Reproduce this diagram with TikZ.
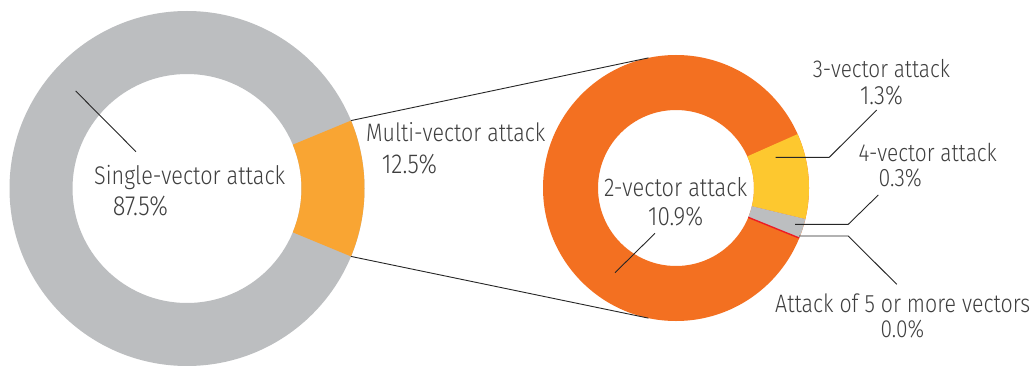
\documentclass[tikz,border=0pt]{standalone}
\usepackage{fontspec}
\setmainfont{Fira Sans Light}
\usetikzlibrary{calc}
\definecolor{ringgray}{HTML}{BCBEC0}
\definecolor{multiorange}{HTML}{F9A533}
\definecolor{twoorange}{HTML}{F37021}
\definecolor{threeyellow}{HTML}{FDC82F}
\definecolor{fivered}{HTML}{ED1C24}
\definecolor{txtgray}{HTML}{3F3F3F}
\newcommand\annsec[6]{%
  \fill[#6] ($(#1)+(#2:#5)$) arc[start angle=#2,end angle=#3,radius=#5]
    -- ($(#1)+(#3:#4)$) arc[start angle=#3,end angle=#2,radius=#4] -- cycle;}
\newcommand\fitw[2]{\scalebox{1}[1.18]{\resizebox{#1pt}{!}{#2}}}
\begin{document}
\begin{tikzpicture}[x=1pt,y=1pt,
  lbl/.style={anchor=base west, inner sep=0pt, text=txtgray, font=\fontsize{20}{20}\selectfont},
  leader/.style={draw=black!85, line width=0.9pt}]
\useasboundingbox (0,0) rectangle (1033,365);
\clip (0,0) rectangle (1033,365);
\fill[white] (0,0) rectangle (1033,365);
% left donut
\coordinate (L) at (187,176.5);
\fill[ringgray, even odd rule] (L) circle[radius=177.5] (L) circle[radius=114.5];
\annsec{L}{-22.5}{22.5}{114.5}{177.5}{multiorange}
% right donut
\coordinate (Rc) at (676,177);
\fill[twoorange, even odd rule] (Rc) circle[radius=133] (Rc) circle[radius=78];
\annsec{Rc}{-13.5}{23.9}{78}{133}{threeyellow}
\annsec{Rc}{-22.1}{-13.5}{78}{133}{ringgray}
\draw[fivered, line width=1.4pt] ($(Rc)+(-22.1:78)$) -- ($(Rc)+(-22.1:133)$);
% connectors between donuts
\coordinate (Lt) at ($(L)+(22.5:177.5)$);
\coordinate (Lb) at ($(L)+(-22.5:177.5)$);
\coordinate (Rt) at ($(Rc)+(102:133)$);
\coordinate (Rb) at ($(Rc)+(-102:133)$);
\draw[leader] (Lt) -- (Rt);
\draw[leader] (Lb) -- (Rb);
% labels
\node[lbl] (single) at (94,180.5) {\fitw{191}{Single-vector attack}};
\node[lbl] (singlep) at (112.7,150) {\fitw{55}{87.5\%}};
\node[lbl] (multi) at (366,223.3) {\fitw{179}{Multi-vector attack}};
\node[lbl] (multip) at (381.7,192) {\fitw{55}{12.5\%}};
\node[lbl] (two) at (604,169) {\fitw{143}{2-vector attack}};
\node[lbl] (twop) at (648,139.3) {\fitw{55}{10.9\%}};
\node[lbl] (three) at (812.7,287.7) {\fitw{137}{3-vector attack}};
\node[lbl] (threep) at (860,261) {\fitw{42.7}{1.3\%}};
\node[lbl] (four) at (858.3,203.8) {\fitw{138.4}{4-vector attack}};
\node[lbl] (fourp) at (878.3,178.3) {\fitw{43.4}{0.3\%}};
\node[lbl] (five) at (775,52.5) {\fitw{255}{Attack of 5 or more vectors}};
\node[lbl] (fivep) at (880.5,27.7) {\fitw{43.5}{0.0\%}};
% leaders
\coordinate (s1) at (75.7,274); \coordinate (s2) at (136,213.3);
\draw[leader] (s1) -- (s2);
\coordinate (t1) at (655,131.7); \coordinate (t2) at (615,92.3);
\draw[leader] (t1) -- (t2);
\coordinate (h1) at (775.7,207.7); \coordinate (h2) at (829.3,207.7); \coordinate (h3) at (876.7,255);
\draw[leader] (h1) -- (h2) -- (h3);
\coordinate (f1) at (795,140.7); \coordinate (f2) at (848.3,140.7); \coordinate (f3) at (878.3,170);
\draw[leader] (f1) -- (f2) -- (f3);
\coordinate (v1) at (799,129); \coordinate (v2) at (848.3,129); \coordinate (v3) at (896.7,80.7);
\draw[leader] (v1) -- (v2) -- (v3);
\end{tikzpicture}
\end{document}
